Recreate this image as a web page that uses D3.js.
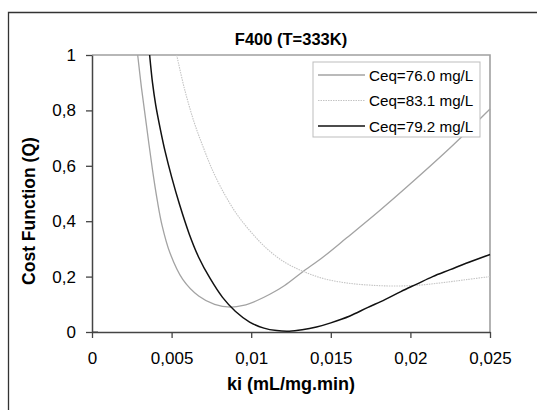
<!DOCTYPE html>
<html lang="en">
<head>
    <meta charset="UTF-8">
    <title>F400 (T=333K)</title>
    <script src="https://cdn.jsdelivr.net/npm/d3@7"></script>
    <style>
        body { margin: 0; background: #fff; }
        text { font-family: "Liberation Sans", Arial, sans-serif; fill: #000; }
    </style>
</head>
<body>
    <svg width="537" height="410"></svg>

    <script>
        // data: ki (mL/mg.min) vs cost function Q
        var seriesNames = ["Ceq=76.0 mg/L", "Ceq=83.1 mg/L", "Ceq=79.2 mg/L"]

        var ki760 = [0.00287, 0.0031, 0.0034, 0.0038, 0.0041, 0.0044, 0.0049, 0.0057, 0.0067, 0.0077, 0.0087, 0.0095, 0.0103, 0.0112, 0.0121, 0.0132, 0.0145, 0.0160, 0.0180, 0.0200, 0.0225, 0.0250]
        var q760 = [1.0, 0.885, 0.755, 0.585, 0.475, 0.385, 0.285, 0.19, 0.13, 0.1, 0.09, 0.096, 0.112, 0.137, 0.168, 0.216, 0.27, 0.34, 0.435, 0.535, 0.665, 0.805]

        var ki831 = [0.00532, 0.0058, 0.0064, 0.0070, 0.0076, 0.0083, 0.0091, 0.0100, 0.0110, 0.0121, 0.0133, 0.0146, 0.0160, 0.0175, 0.0190, 0.0205, 0.0220, 0.0235, 0.0250]
        var q831 = [1.0, 0.88, 0.76, 0.665, 0.58, 0.50, 0.425, 0.36, 0.30, 0.252, 0.218, 0.192, 0.177, 0.169, 0.166, 0.169, 0.178, 0.189, 0.2]

        var ki792 = [0.00362, 0.0038, 0.0040, 0.0043, 0.0046, 0.0050, 0.0055, 0.0061, 0.0067, 0.0074, 0.0082, 0.0090, 0.0099, 0.0108, 0.0116, 0.0124, 0.0132, 0.0141, 0.0150, 0.0162, 0.0173, 0.0184, 0.0194, 0.0204, 0.0214, 0.0225, 0.0235, 0.0250]
        var q792 = [1.0, 0.9, 0.82, 0.73, 0.65, 0.56, 0.46, 0.355, 0.27, 0.195, 0.125, 0.075, 0.036, 0.014, 0.005, 0.003, 0.008, 0.018, 0.033, 0.058, 0.088, 0.117, 0.146, 0.173, 0.2, 0.225, 0.248, 0.28]

        var xTicks = [0, 0.005, 0.01, 0.015, 0.02, 0.025]
        var xTickLabels = ["0", "0,005", "0,01", "0,015", "0,02", "0,025"]
        var yTicks = [0, 0.2, 0.4, 0.6, 0.8, 1]
        var yTickLabels = ["0", "0,2", "0,4", "0,6", "0,8", "1"]

        var svg = d3.select("svg")
        var plot = {left: 92, right: 490, top: 55, bottom: 332}

        // outer chart frame (only left and top are inside the picture)
        svg.append("path")
            .attr("d", "M 8.5,410 L 8.5,12.5 L 537,12.5")
            .attr("fill", "none")
            .attr("stroke", "#333")
            .attr("stroke-width", 1.3)

        var x = d3.scaleLinear().domain([0, 0.025]).range([plot.left, plot.right])
        var y = d3.scaleLinear().domain([0, 1]).range([plot.bottom, plot.top])

        // plot area border, top and right in grey
        svg.append("path")
            .attr("d", `M ${plot.left},${plot.top} L ${plot.right},${plot.top} L ${plot.right},${plot.bottom}`)
            .attr("fill", "none")
            .attr("stroke", "#a0a0a0")
            .attr("stroke-width", 1.6)

        var line = d3.line()
            .x(d => x(d[0]))
            .y(d => y(d[1]))
            .curve(d3.curveCatmullRom.alpha(0.5))

        var series = [
            {name: seriesNames[0], pts: d3.zip(ki760, q760), color: "#a3a3a3", width: 1.3, dash: null},
            {name: seriesNames[1], pts: d3.zip(ki831, q831), color: "#c4c4c4", width: 1.1, dash: "1.5,1"},
            {name: seriesNames[2], pts: d3.zip(ki792, q792), color: "#111", width: 1.5, dash: null}
        ]

        svg.append("g").selectAll("path").data(series).enter().append("path")
            .attr("d", d => line(d.pts))
            .attr("fill", "none")
            .attr("stroke", d => d.color)
            .attr("stroke-width", d => d.width)
            .attr("stroke-dasharray", d => d.dash)

        // axes
        var xAxis = d3.axisBottom(x).tickValues(xTicks)
            .tickFormat((d, i) => xTickLabels[i]).tickSizeInner(6).tickSizeOuter(0).tickPadding(14)
        var gx = svg.append("g").attr("transform", `translate(0,${plot.bottom})`).call(xAxis)

        var yAxis = d3.axisLeft(y).tickValues(yTicks)
            .tickFormat((d, i) => yTickLabels[i]).tickSizeInner(6).tickSizeOuter(0).tickPadding(10)
        var gy = svg.append("g").attr("transform", `translate(${plot.left},0)`).call(yAxis)

        ;[gx, gy].forEach(function (g) {
            g.select(".domain").attr("stroke", "#444").attr("stroke-width", 1.5)
            g.selectAll(".tick line").attr("stroke", "#444").attr("stroke-width", 1.3)
            g.selectAll(".tick text")
                .attr("font-family", "Liberation Sans, Arial, sans-serif")
                .attr("font-size", 17).attr("fill", "#000")
        })
        // little tick across the origin like in the reference
        gy.append("line").attr("x1", 0).attr("x2", 6).attr("y1", y(0)).attr("y2", y(0)).attr("stroke", "#444")

        // legend
        var lg = svg.append("g").attr("transform", "translate(313,62)")
        lg.append("rect").attr("width", 167).attr("height", 75)
            .attr("fill", "#fff").attr("stroke", "#bdbdbd").attr("stroke-width", 1)
        var items = lg.selectAll("g.item").data(series).enter().append("g")
            .attr("transform", (d, i) => `translate(0,${13 + i * 25.5})`)
        items.append("line").attr("x1", 5).attr("x2", 52).attr("y1", 0).attr("y2", 0)
            .attr("stroke", d => d.color)
            .attr("stroke-width", d => d.width)
            .attr("stroke-dasharray", d => d.dash)
        items.append("text").attr("x", 56).attr("y", 5.5)
            .attr("font-size", 15.2)
            .text(d => d.name)

        // titles
        svg.append("text").attr("x", (plot.left + plot.right) / 2).attr("y", 45)
            .attr("text-anchor", "middle").attr("font-weight", "bold").attr("font-size", 16.5)
            .text("F400 (T=333K)")
        svg.append("text").attr("x", (plot.left + plot.right) / 2).attr("y", 390)
            .attr("text-anchor", "middle").attr("font-weight", "bold").attr("font-size", 18)
            .text("ki (mL/mg.min)")
        svg.append("text").attr("transform", "translate(35,211) rotate(-90)")
            .attr("text-anchor", "middle").attr("font-weight", "bold").attr("font-size", 17.5)
            .text("Cost Function (Q)")
    </script>
</body>
</html>
